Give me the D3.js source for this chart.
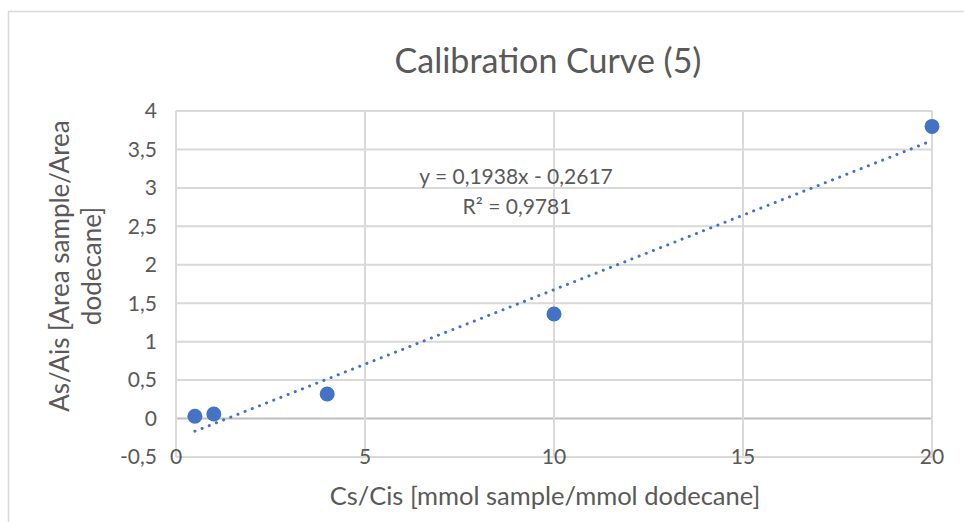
<!DOCTYPE html>
<meta charset="utf-8">
<style>
body { margin: 0; background: #fff; }
text { font-family: Lato, sans-serif; fill: #595959; }
</style>
<body>
<div id="chart"></div>
<script src="https://d3js.org/d3.v7.min.js"></script>
<script>
var width = 964, height = 522;

// calibration points
var cs = [0.5, 1, 4, 10, 20];
var as = [0.03, 0.06, 0.32, 1.36, 3.80];
var xTicks = [0, 5, 10, 15, 20];
var yTicks = [-0.5, 0, 0.5, 1, 1.5, 2, 2.5, 3, 3.5, 4];
var slope = 0.1938, intercept = -0.2617, r2 = 0.9781;

var svg = d3.select("#chart").append("svg")
    .attr("width", width)
    .attr("height", height);

// chart frame
svg.append("rect")
    .attr("x", 8.5).attr("y", 11.5)
    .attr("width", 980).attr("height", 540)
    .attr("fill", "none")
    .attr("stroke", "#d9d9d9")
    .attr("stroke-width", 1.5);

var x = d3.scaleLinear().domain([0, 20]).range([176, 932]);
var y = d3.scaleLinear().domain([-0.5, 4]).range([457, 111]);

var fmt = function(d) { return String(d).replace(".", ","); };

// grid
svg.append("g").selectAll("line")
  .data(yTicks)
  .enter().append("line")
    .attr("x1", x(0)).attr("x2", x(20))
    .attr("y1", function(d) { return y(d); })
    .attr("y2", function(d) { return y(d); })
    .attr("stroke", function(d) { return d === 0 ? "#bfbfbf" : "#d9d9d9"; })
    .attr("stroke-width", 2);

svg.append("g").selectAll("line")
  .data(xTicks)
  .enter().append("line")
    .attr("y1", y(-0.5)).attr("y2", y(4))
    .attr("x1", function(d) { return x(d); })
    .attr("x2", function(d) { return x(d); })
    .attr("stroke", "#d9d9d9")
    .attr("stroke-width", 2);

// tick labels
svg.append("g").selectAll("text")
  .data(yTicks)
  .enter().append("text")
    .attr("x", 157)
    .attr("y", function(d) { return y(d); })
    .attr("dy", "0.35em")
    .attr("text-anchor", "end")
    .attr("font-size", 21)
    .text(fmt);

svg.append("g").selectAll("text")
  .data(xTicks)
  .enter().append("text")
    .attr("x", function(d) { return x(d); })
    .attr("y", y(-0.5))
    .attr("dy", "0.35em")
    .attr("text-anchor", "middle")
    .attr("font-size", 21)
    .text(fmt);

// trendline
svg.append("line")
    .attr("x1", x(cs[0])).attr("y1", y(slope * cs[0] + intercept))
    .attr("x2", x(cs[cs.length - 1])).attr("y2", y(slope * cs[cs.length - 1] + intercept))
    .attr("stroke", "#4472c4")
    .attr("stroke-width", 3)
    .attr("stroke-linecap", "round")
    .attr("stroke-dasharray", "0.1 7.6");

// points
svg.append("g").selectAll("circle")
  .data(cs)
  .enter().append("circle")
    .attr("cx", function(d) { return x(d); })
    .attr("cy", function(d, i) { return y(as[i]); })
    .attr("r", 7.5)
    .attr("fill", "#4472c4");

// equation
svg.append("text")
    .attr("x", 516).attr("y", 184)
    .attr("text-anchor", "middle")
    .attr("font-size", 21)
    .text("y = " + fmt(slope) + "x - " + fmt(-intercept));
svg.append("text")
    .attr("x", 517).attr("y", 214)
    .attr("text-anchor", "middle")
    .attr("font-size", 21)
    .text("R² = " + fmt(r2));

// titles
svg.append("text")
    .attr("x", 548).attr("y", 73)
    .attr("text-anchor", "middle")
    .attr("font-size", 34)
    .text("Calibration Curve (5)");

svg.append("text")
    .attr("x", 545).attr("y", 505)
    .attr("text-anchor", "middle")
    .attr("font-size", 25.5)
    .text("Cs/Cis [mmol sample/mmol dodecane]");

var yt = svg.append("text")
    .attr("transform", "translate(69,266) rotate(-90)")
    .attr("text-anchor", "middle")
    .attr("font-size", 26);
yt.append("tspan").attr("x", 0).attr("dy", 0).text("As/Ais [Area sample/Area");
yt.append("tspan").attr("x", 0).attr("dy", 32).text("dodecane]");
</script>
</body>
